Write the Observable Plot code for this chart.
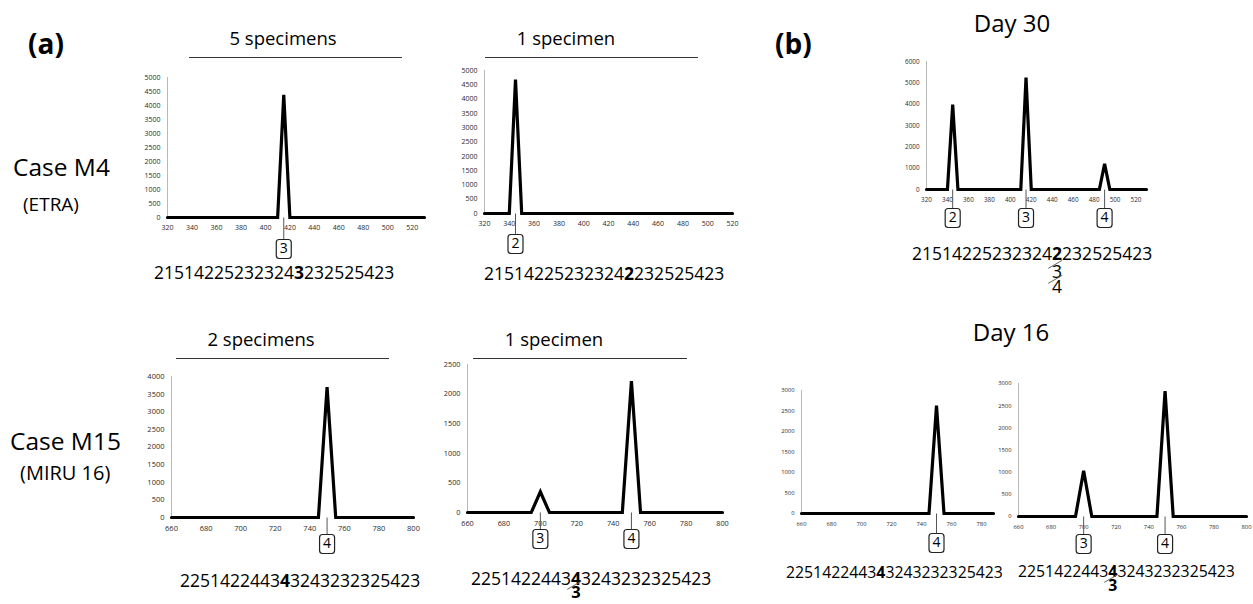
<!DOCTYPE html>
<html><head><meta charset="utf-8">
<script src="https://cdn.jsdelivr.net/npm/d3@7"></script>
<script src="https://cdn.jsdelivr.net/npm/@observablehq/plot@0.6"></script>
<style>
html,body{margin:0;padding:0;background:#fff;overflow:hidden;}
#fig{position:relative;width:1253px;height:604px;font-family:"Open Sans",sans-serif;color:#000;overflow:hidden;}
.t{position:absolute;white-space:nowrap;line-height:0.8;}
.c{transform:translate(-50%,-50%);}
.l{transform:translateY(-50%);}
.hl{position:absolute;height:0;border-top:1.5px solid #333;}
.sl{position:absolute;height:0;width:16px;border-top:1px solid #666;transform-origin:0 0;transform:rotate(-30deg);}
b{font-weight:700;}
</style></head><body><div id="fig"></div>
<script>
// ---------- data ----------
const xTicksA = [320, 340, 360, 380, 400, 420, 440, 460, 480, 500, 520];
const xTicksB = [660, 680, 700, 720, 740, 760, 780, 800];
const xTicksB2 = [660, 680, 700, 720, 740, 760, 780];
const yTicks5000 = [0, 500, 1000, 1500, 2000, 2500, 3000, 3500, 4000, 4500, 5000];
const yTicks6000 = [0, 1000, 2000, 3000, 4000, 5000, 6000];
const yTicks4000 = [0, 500, 1000, 1500, 2000, 2500, 3000, 3500, 4000];
const yTicks2500 = [0, 500, 1000, 1500, 2000, 2500];
const yTicks3000 = [0, 500, 1000, 1500, 2000, 2500, 3000];

const p1X = [320, 410, 415, 420, 530];
const p1Y = [0, 0, 4380, 0, 0];
const p2X = [320, 340, 345, 350, 520];
const p2Y = [0, 0, 4680, 0, 0];
const p3X = [320, 340, 345, 350, 410, 415, 420, 485, 490, 495, 530];
const p3Y = [0, 0, 3980, 0, 0, 5250, 0, 0, 1200, 0, 0];
const p4X = [660, 745, 750, 755, 800];
const p4Y = [0, 0, 3700, 0, 0];
const p5X = [660, 695, 700, 705, 745, 750, 755, 800];
const p5Y = [0, 0, 350, 0, 0, 2220, 0, 0];
const p6X = [660, 745, 750, 755, 788];
const p6Y = [0, 0, 2630, 0, 0];
const p7X = [660, 695, 700, 705, 745, 750, 755, 800];
const p7Y = [0, 0, 1030, 0, 0, 2830, 0, 0];

const m1X = [415], m1L = ["3"];
const m2X = [345], m2L = ["2"];
const m3X = [345, 415, 490], m3L = ["2", "3", "4"];
const m4X = [750], m4L = ["4"];
const m5X = [700, 750], m5L = ["3", "4"];
const m6X = [750], m6L = ["4"];
const m7X = [700, 750], m7L = ["3", "4"];

const seqETRA3 = ["21514225232324", "3", "232525423"];
const seqETRA2 = ["21514225232324", "2", "232525423"];
const seqMIRU4 = ["2251422443", "4", "3243232325423"];
const altDay30 = ["3", "4"];
const altMIRU = ["3"];

// ---------- helpers ----------
const fig = document.getElementById("fig");

function tickSym(L) {
  return { draw(ctx) { ctx.moveTo(0, 0); ctx.lineTo(0, L); } };
}
function boxSym(L) {
  return { draw(ctx) {
    const w = 7.5, h = 19, r = 3, y0 = L, y1 = L + h;
    ctx.moveTo(-w + r, y0); ctx.lineTo(w - r, y0); ctx.arcTo(w, y0, w, y0 + r, r);
    ctx.lineTo(w, y1 - r); ctx.arcTo(w, y1, w - r, y1, r);
    ctx.lineTo(-w + r, y1); ctx.arcTo(-w, y1, -w, y1 - r, r);
    ctx.lineTo(-w, y0 + r); ctx.arcTo(-w, y0, -w + r, y0, r); ctx.closePath();
  } };
}

function panel(cfg, xs, ys, xDom, yDom, xT, yT, mx, ml) {
  const data = xs.map((x, i) => ({x, y: ys[i]}));
  const markers = mx.map((x, i) => ({x, label: ml[i]}));
  const mL = 50, mR = 8, mT = 10, mB = 50, L = cfg.tick;
  const chart = Plot.plot({
    width: mL + (cfg.x1 - cfg.x0) + mR,
    height: mT + (cfg.y0 - cfg.yt) + mB,
    marginLeft: mL, marginRight: mR, marginTop: mT, marginBottom: mB,
    x: {domain: xDom},
    y: {domain: yDom},
    style: {fontFamily: "Open Sans", background: "transparent", overflow: "visible"},
    marks: [
      Plot.ruleX([xDom[0]], {y1: yDom[0], y2: yDom[1], stroke: "#b8b8b8", strokeWidth: 1}),
      Plot.axisY({ticks: yT, tickSize: 0, tickPadding: 7, tickFormat: "d", fontSize: cfg.fs, color: "#2a2a2a", label: null}),
      Plot.axisX({ticks: xT, tickSize: 0, tickPadding: 8, tickFormat: "d", fontSize: cfg.fs, color: "#2a2a2a", label: null}),
      Plot.line(data, {x: "x", y: "y", stroke: "#000", strokeWidth: 3.2, strokeLinejoin: "miter", strokeMiterlimit: 4, curve: "linear"}),
      Plot.dot(markers, {x: "x", y: () => 0, symbol: tickSym(L), stroke: "#555", strokeWidth: 1, fill: "none"}),
      Plot.dot(markers, {x: "x", y: () => 0, symbol: boxSym(L), stroke: "#222", strokeWidth: 1.2, fill: "white"}),
      Plot.text(markers, {x: "x", y: () => 0, text: "label", dy: L + 9.5, fontSize: 14, fill: "#000"})
    ]
  });
  chart.style.position = "absolute";
  chart.style.left = (cfg.x0 - mL) + "px";
  chart.style.top = (cfg.yt - mT) + "px";
  fig.appendChild(chart);
}

function text(str, x, y, size, cls, weight) {
  const d = document.createElement("div");
  d.className = "t " + cls;
  d.textContent = str;
  d.style.left = x + "px"; d.style.top = y + "px";
  d.style.fontSize = size + "px";
  if (weight) d.style.fontWeight = weight;
  fig.appendChild(d);
  return d;
}
function hline(x1, x2, y) {
  const d = document.createElement("div");
  d.className = "hl";
  d.style.left = x1 + "px"; d.style.top = y + "px"; d.style.width = (x2 - x1) + "px";
  fig.appendChild(d);
}
function seq(parts, x, cy, size, alts, altDy, altStep, altBold, altSize) {
  const d = document.createElement("div");
  d.className = "t l";
  d.style.left = x + "px"; d.style.top = cy + "px"; d.style.fontSize = size + "px";
  const a = document.createElement("span"); a.textContent = parts[0];
  const b = document.createElement("b"); b.textContent = parts[1];
  const c = document.createElement("span"); c.textContent = parts[2];
  d.append(a, b, c);
  fig.appendChild(d);
  if (alts) {
    const fr = fig.getBoundingClientRect();
    const br = b.getBoundingClientRect();
    const cx = br.left + br.width / 2 - fr.left;
    alts.forEach((s, i) => {
      const ay = cy + altDy + i * altStep;
      text(s, cx, ay, altSize || size, "c", altBold ? 700 : 400);
      const sl = document.createElement("div");
      sl.className = "sl";
      sl.style.left = (cx - 9) + "px"; sl.style.top = (ay - 3) + "px";
      fig.appendChild(sl);
    });
  }
}

// ---------- panels ----------
panel({x0: 167, x1: 424, yt: 77, y0: 217, tick: 22, fs: 7}, p1X, p1Y, [320, 530], [0, 5000], xTicksA, yTicks5000, m1X, m1L);
panel({x0: 484, x1: 732, yt: 70, y0: 213, tick: 21, fs: 7}, p2X, p2Y, [320, 520], [0, 5000], xTicksA, yTicks5000, m2X, m2L);
panel({x0: 926, x1: 1146, yt: 61, y0: 189, tick: 19, fs: 6.3}, p3X, p3Y, [320, 530], [0, 6000], xTicksA, yTicks6000, m3X, m3L);
panel({x0: 171, x1: 413, yt: 376, y0: 517, tick: 17, fs: 7.5}, p4X, p4Y, [660, 800], [0, 4000], xTicksB, yTicks4000, m4X, m4L);
panel({x0: 467, x1: 722, yt: 364, y0: 512, tick: 17, fs: 7.3}, p5X, p5Y, [660, 800], [0, 2500], xTicksB, yTicks2500, m5X, m5L);
panel({x0: 801, x1: 993, yt: 390, y0: 513, tick: 20, fs: 5.8}, p6X, p6Y, [660, 788], [0, 3000], xTicksB2, yTicks3000, m6X, m6L);
panel({x0: 1018, x1: 1246, yt: 383, y0: 516, tick: 18, fs: 5.8}, p7X, p7Y, [660, 800], [0, 3000], xTicksB, yTicks3000, m7X, m7L);

// ---------- labels ----------
text("(a)", 28, 43, 28, "l", 700);
text("(b)", 775, 43, 28, "l", 700);
text("5 specimens", 283, 38, 18.5, "c");
hline(189, 402, 57);
text("1 specimen", 566, 38, 18.5, "c");
hline(485, 698, 57);
text("Day 30", 1012, 23, 24, "c");
text("Case M4", 13, 167, 24.5, "l");
text("(ETRA)", 23, 205, 19, "l");
text("2 specimens", 261, 339, 18.5, "c");
hline(176, 389, 358);
text("1 specimen", 554, 339, 18.5, "c");
hline(473, 687, 358);
text("Case M15", 10, 441, 24.5, "l");
text("(MIRU 16)", 20, 473, 20, "l");
text("Day 16", 1011, 332, 24, "c");

seq(seqETRA3, 154, 272, 17.5);
seq(seqETRA2, 484, 273, 17.5);
seq(seqETRA2, 912, 253, 17.5, altDay30, 18, 15, false);
seq(seqMIRU4, 180, 580, 17.5);
seq(seqMIRU4, 471, 578, 17.5, altMIRU, 14, 0, true, 16.5);
seq(seqMIRU4, 786, 572, 15.8);
seq(seqMIRU4, 1018, 571, 15.8, altMIRU, 14, 0, true);
</script></body></html>
